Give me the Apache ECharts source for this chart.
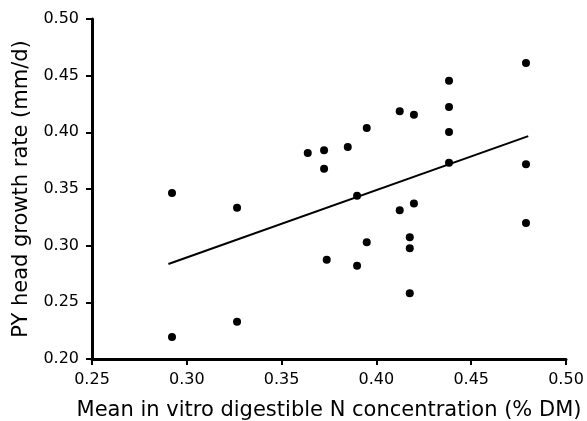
<!DOCTYPE html>
<html>
<head>
<meta charset="utf-8">
<script src="https://cdn.jsdelivr.net/npm/echarts@6/dist/echarts.min.js"></script>
<style>
html,body{margin:0;padding:0;background:#fff;}
#c{width:587px;height:421px;}
</style>
</head>
<body>
<div id="c"></div>
<script>
var xValues = [0.2922, 0.2922, 0.3265, 0.3265, 0.3638, 0.3724, 0.3724, 0.3738, 0.3849, 0.3898, 0.3898, 0.3949, 0.3949, 0.4123, 0.4123, 0.4176, 0.4176, 0.4176, 0.4198, 0.4198, 0.4383, 0.4383, 0.4383, 0.4383, 0.4789, 0.4789, 0.4789];
var yValues = [0.3465, 0.2194, 0.3335, 0.2329, 0.3817, 0.3841, 0.3679, 0.2876, 0.3870, 0.3441, 0.2823, 0.4038, 0.3030, 0.4185, 0.3312, 0.3074, 0.2977, 0.2580, 0.4156, 0.3373, 0.4456, 0.4224, 0.4003, 0.3732, 0.4612, 0.3718, 0.3200];
var trendX = [0.2903, 0.4801];
var trendY = [0.2838, 0.3967];
var xTicks = [0.25, 0.30, 0.35, 0.40, 0.45, 0.50];
var yTicks = [0.20, 0.25, 0.30, 0.35, 0.40, 0.45, 0.50];

var pts = xValues.map(function(x, i){ return [x, yValues[i]]; });
var trend = trendX.map(function(x, i){ return [x, trendY[i]]; });
var FONT = 'DejaVu Sans, Liberation Sans, Arial, sans-serif';

var chart = echarts.init(document.getElementById('c'), null, {renderer: 'canvas'});
chart.setOption({
  animation: false,
  backgroundColor: '#fff',
  grid: {left: 92, right: 21, top: 19, bottom: 62, containLabel: false, outerBoundsMode: 'none'},
  xAxis: {
    type: 'value', min: xTicks[0], max: xTicks[xTicks.length-1], interval: 0.05,
    name: 'Mean in vitro digestible N concentration (% DM)',
    nameLocation: 'middle', nameGap: 41,
    nameTextStyle: {fontFamily: FONT, fontSize: 21, color: '#000'},
    axisLine: {show: true, onZero: false, lineStyle: {color: '#000', width: 3}},
    axisTick: {show: true, inside: false, length: 6, lineStyle: {color: '#000', width: 2}},
    axisLabel: {fontFamily: FONT, fontSize: 16, color: '#000', margin: 13,
      formatter: function(v){ return v.toFixed(2); }},
    splitLine: {show: false}
  },
  yAxis: {
    type: 'value', min: yTicks[0], max: yTicks[yTicks.length-1], interval: 0.05,
    name: 'PY head growth rate (mm/d)',
    nameLocation: 'middle', nameGap: 60,
    nameTextStyle: {fontFamily: FONT, fontSize: 21, color: '#000'},
    axisLine: {show: true, onZero: false, lineStyle: {color: '#000', width: 3}},
    axisTick: {show: true, inside: false, length: 6, lineStyle: {color: '#000', width: 2}},
    axisLabel: {fontFamily: FONT, fontSize: 16, color: '#000', margin: 13,
      formatter: function(v){ return v.toFixed(2); }},
    splitLine: {show: false}
  },
  series: [
    {type: 'scatter', data: pts, symbol: 'circle', symbolSize: 8,
     itemStyle: {color: '#000', opacity: 1}, z: 3},
    {type: 'line', data: trend, showSymbol: false, symbol: 'none',
     lineStyle: {color: '#000', width: 2}, z: 2}
  ]
});
</script>
</body>
</html>
